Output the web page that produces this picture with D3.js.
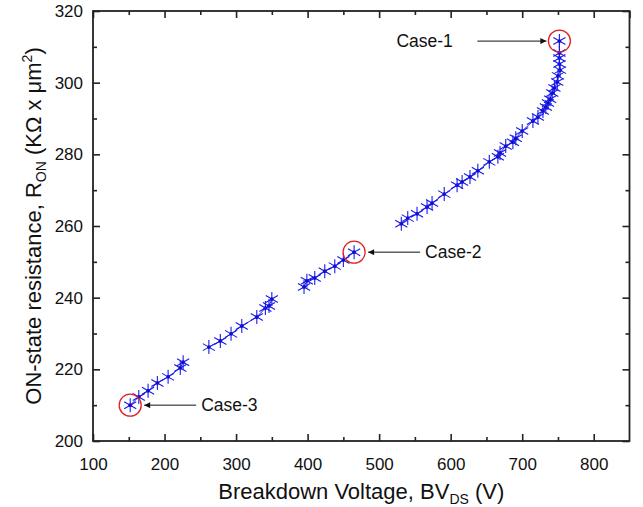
<!DOCTYPE html>
<html>
<head>
<meta charset="utf-8">
<script src="https://cdn.jsdelivr.net/npm/d3@7"></script>
<style>
  body { margin: 0; background: #fff; }
  svg { display: block; font-family: "Liberation Sans", Arial, sans-serif; }
</style>
</head>
<body>
<div id="chart"></div>
<script>
// Breakdown voltage (V) vs ON-state resistance (KΩ x μm²)
// four runs of points, joined only inside a run
const seg1BV  = [152, 164, 177, 190, 205, 222, 226];
const seg1Ron = [210.0, 212.3, 214.0, 216.2, 217.9, 220.4, 222.0];

const seg2BV  = [262, 278, 293, 308, 329, 341, 346, 350];
const seg2Ron = [226.2, 227.9, 229.9, 232.1, 234.6, 237.1, 237.7, 239.6];

const seg3BV  = [395, 399, 410, 424, 438, 450, 465];
const seg3Ron = [243.0, 244.7, 245.5, 247.4, 248.8, 250.5, 252.7];

const seg4BV  = [531, 540, 553, 567, 574, 591, 609, 616, 627, 638, 654, 666, 669, 677,
                 687, 691, 700, 715, 722, 729, 733, 736, 739, 742, 745, 749, 750, 753,
                 752, 752, 752, 752];
const seg4Ron = [260.6, 262.2, 263.4, 265.3, 266.4, 268.9, 271.4, 272.3, 273.7, 275.4,
                 277.9, 279.3, 280.4, 282.3, 283.4, 284.5, 286.5, 289.3, 290.4, 292.1,
                 293.2, 294.3, 295.4, 297.1, 298.5, 300.2, 301.9, 303.5, 305.2, 306.9,
                 308.3, 311.6];

// highlighted cases
const caseNames = ['Case-1', 'Case-2', 'Case-3'];
const caseBV    = [752, 465, 152];
const caseRon   = [311.6, 252.7, 210.0];
const caseSide  = ['left', 'right', 'right'];

const xTicks = [100, 200, 300, 400, 500, 600, 700, 800];
const yTicks = [200, 220, 240, 260, 280, 300, 320];

const W = 643, H = 507;
const plot = { left: 93, right: 629.5, top: 11, bottom: 441 };

const svg = d3.select('#chart').append('svg')
  .attr('width', W).attr('height', H);

const x = d3.scaleLinear().domain([100, 850]).range([plot.left, plot.right]);
const y = d3.scaleLinear().domain([200, 320]).range([plot.bottom, plot.top]);

const blue = '#1a1aee';
const axisColor = '#222';

// arrow head
svg.append('defs').append('marker')
    .attr('id', 'head')
    .attr('viewBox', '0 0 10 10')
    .attr('refX', 10).attr('refY', 5)
    .attr('markerWidth', 9).attr('markerHeight', 6)
    .attr('markerUnits', 'userSpaceOnUse')
    .attr('orient', 'auto')
  .append('path')
    .attr('d', 'M0,0 L10,5 L0,10 Z')
    .attr('fill', '#111');

// axes: ticks point inwards, mirrored on top / right
const minorX = d3.range(150, 850, 100);
const minorY = d3.range(210, 320, 20);

function styleAxis(g) {
  g.select('.domain').remove();
  g.selectAll('.tick line').attr('stroke', axisColor).attr('stroke-width', 1.6);
  g.selectAll('.tick text')
    .attr('fill', '#111')
    .style('font-size', '17px')
    .style('font-family', '"Liberation Sans", Arial, sans-serif');
}

svg.append('g')
    .attr('transform', `translate(0,${plot.bottom})`)
    .call(d3.axisBottom(x).tickValues(xTicks).tickSizeInner(-7).tickSizeOuter(0).tickPadding(17))
    .call(styleAxis);
svg.append('g')
    .attr('transform', `translate(0,${plot.bottom})`)
    .call(d3.axisBottom(x).tickValues(minorX).tickSize(-4).tickFormat(''))
    .call(styleAxis);
svg.append('g')
    .attr('transform', `translate(0,${plot.top})`)
    .call(d3.axisTop(x).tickValues(xTicks.concat([850])).tickSize(-7).tickFormat(''))
    .call(styleAxis);
svg.append('g')
    .attr('transform', `translate(0,${plot.top})`)
    .call(d3.axisTop(x).tickValues(minorX).tickSize(-4).tickFormat(''))
    .call(styleAxis);

svg.append('g')
    .attr('transform', `translate(${plot.left},0)`)
    .call(d3.axisLeft(y).tickValues(yTicks).tickSizeInner(-7).tickSizeOuter(0).tickPadding(10))
    .call(styleAxis);
svg.append('g')
    .attr('transform', `translate(${plot.left},0)`)
    .call(d3.axisLeft(y).tickValues(minorY).tickSize(-4).tickFormat(''))
    .call(styleAxis);
svg.append('g')
    .attr('transform', `translate(${plot.right},0)`)
    .call(d3.axisRight(y).tickValues(yTicks).tickSize(-7).tickFormat(''))
    .call(styleAxis);
svg.append('g')
    .attr('transform', `translate(${plot.right},0)`)
    .call(d3.axisRight(y).tickValues(minorY).tickSize(-4).tickFormat(''))
    .call(styleAxis);

// frame
svg.append('rect')
    .attr('x', plot.left).attr('y', plot.top)
    .attr('width', plot.right - plot.left).attr('height', plot.bottom - plot.top)
    .attr('fill', 'none').attr('stroke', axisColor).attr('stroke-width', 1.8);

// data runs
const runs = [
  d3.zip(seg1BV, seg1Ron),
  d3.zip(seg2BV, seg2Ron),
  d3.zip(seg3BV, seg3Ron),
  d3.zip(seg4BV, seg4Ron)
];

const line = d3.line().x(d => x(d[0])).y(d => y(d[1]));

svg.append('g').selectAll('path')
  .data(runs)
  .join('path')
    .attr('d', line)
    .attr('fill', 'none')
    .attr('stroke', blue)
    .attr('stroke-width', 1);

// asterisk symbol: vertical stroke plus an X
const rs = 7;
const a = rs * Math.sin(Math.PI / 3), b = rs * Math.cos(Math.PI / 3);
const starPath = `M0,${-rs}L0,${rs}M${-a},${-b}L${a},${b}M${-a},${b}L${a},${-b}`;

const pts = runs.flat();
const stars = svg.append('g').selectAll('g')
  .data(pts)
  .join('g')
    .attr('transform', d => `translate(${x(d[0])},${y(d[1])})`);
stars.append('path')
    .attr('d', starPath)
    .attr('stroke', blue)
    .attr('stroke-width', 1.1)
    .attr('fill', 'none');
stars.append('circle')
    .attr('r', 1.9)
    .attr('fill', '#1010cc');

// case circles, arrows and labels
const cases = caseNames.map((name, i) => ({ name, bv: caseBV[i], ron: caseRon[i], side: caseSide[i] }));

svg.append('g').selectAll('circle')
  .data(cases)
  .join('circle')
    .attr('cx', d => x(d.bv))
    .attr('cy', d => y(d.ron))
    .attr('r', 11)
    .attr('fill', 'none')
    .attr('stroke', '#e02020')
    .attr('stroke-width', 1.3);

const ann = svg.append('g').selectAll('g')
  .data(cases)
  .join('g');

ann.append('line')
    .attr('x1', d => d.side === 'left' ? x(d.bv) - 82 : x(d.bv) + 66)
    .attr('x2', d => d.side === 'left' ? x(d.bv) - 13 : x(d.bv) + 14)
    .attr('y1', d => y(d.ron))
    .attr('y2', d => y(d.ron))
    .attr('stroke', '#111')
    .attr('stroke-width', 1)
    .attr('marker-end', 'url(#head)');

ann.append('text')
    .attr('x', d => d.side === 'left' ? x(d.bv) - 163 : x(d.bv) + 71)
    .attr('y', d => y(d.ron) + 6)
    .attr('fill', '#111')
    .style('font-size', '17.5px')
    .text(d => d.name);

// axis titles
const xt = svg.append('text')
    .attr('x', (plot.left + plot.right) / 2)
    .attr('y', 499)
    .attr('text-anchor', 'middle')
    .attr('fill', '#111')
    .style('font-size', '22px');
xt.append('tspan').text('Breakdown Voltage, BV');
xt.append('tspan').attr('dy', 5).style('font-size', '14px').text('DS');
xt.append('tspan').attr('dy', -5).text(' (V)');

const yt = svg.append('text')
    .attr('transform', `translate(41,${(plot.top + plot.bottom) / 2}) rotate(-90)`)
    .attr('text-anchor', 'middle')
    .attr('fill', '#111')
    .style('font-size', '22px');
yt.append('tspan').text('ON-state resistance, R');
yt.append('tspan').attr('dy', 5).style('font-size', '14px').text('ON');
yt.append('tspan').attr('dy', -5).text(' (KΩ x μm');
yt.append('tspan').attr('dy', -9).style('font-size', '14px').text('2');
yt.append('tspan').attr('dy', 9).text(')');
</script>
</body>
</html>
